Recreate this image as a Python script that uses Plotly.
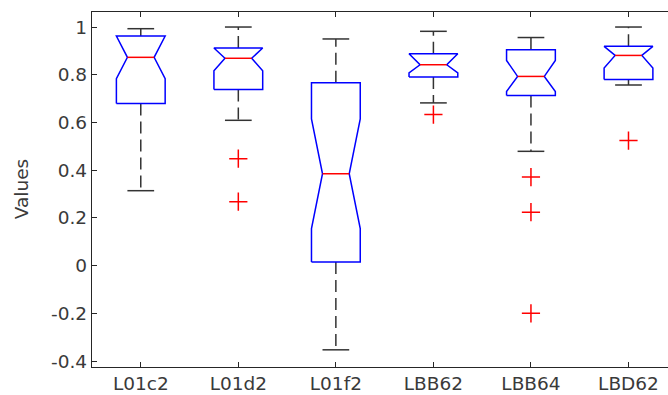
import plotly.graph_objects as go

# ---- data ----
categories = ["L01c2", "L01d2", "L01f2", "LBB62", "LBB64", "LBD62"]
q1 = [0.679, 0.738, 0.015, 0.791, 0.713, 0.780]
median = [0.873, 0.869, 0.385, 0.842, 0.793, 0.881]
q3 = [0.962, 0.912, 0.766, 0.888, 0.905, 0.919]
notch_lo = [0.784, 0.817, 0.155, 0.808, 0.730, 0.828]
notch_hi = [0.962, 0.912, 0.615, 0.888, 0.860, 0.919]
whisker_lo = [0.314, 0.609, -0.353, 0.682, 0.479, 0.757]
whisker_hi = [0.993, 1.000, 0.950, 0.982, 0.956, 1.000]
outliers = {
    "L01d2": [0.448, 0.268],
    "LBB62": [0.633],
    "LBB64": [0.371, 0.224, -0.200],
    "LBD62": [0.524],
}
y_tick_vals = [-0.4, -0.2, 0, 0.2, 0.4, 0.6, 0.8, 1.0]
y_tick_text = ["-0.4", "-0.2", "0", "0.2", "0.4", "0.6", "0.8", "1"]

# ---- geometry (styles) ----
W = 0.25     # box half-width
WN = 0.137   # notch / cap half-width
FONT = dict(family="DejaVu Sans", size=18.5, color="#3a3a3a")

xs = list(range(1, len(categories) + 1))

box_x, box_y = [], []
med_x, med_y = [], []
wh_x, wh_y = [], []
cap_x, cap_y = [], []
out_x, out_y = [], []
for i, c in enumerate(categories):
    x = xs[i]
    box_x += [x - W, x - W, x - WN, x - W, x - W, x + W, x + W, x + WN, x + W, x + W, x - W, None]
    box_y += [q1[i], notch_lo[i], median[i], notch_hi[i], q3[i], q3[i], notch_hi[i], median[i],
              notch_lo[i], q1[i], q1[i], None]
    med_x += [x - WN, x + WN, None]
    med_y += [median[i], median[i], None]
    wh_x += [x, x, None, x, x, None]
    wh_y += [q3[i], whisker_hi[i], None, q1[i], whisker_lo[i], None]
    cap_x += [x - WN, x + WN, None, x - WN, x + WN, None]
    cap_y += [whisker_hi[i], whisker_hi[i], None, whisker_lo[i], whisker_lo[i], None]
    for v in outliers.get(c, []):
        out_x.append(x)
        out_y.append(v)

fig = go.Figure()
fig.add_trace(go.Scatter(x=wh_x, y=wh_y, mode="lines",
                         line=dict(color="#333333", width=1.5, dash="12px,6px"), hoverinfo="skip"))
fig.add_trace(go.Scatter(x=cap_x, y=cap_y, mode="lines",
                         line=dict(color="#333333", width=1.5), hoverinfo="skip"))
fig.add_trace(go.Scatter(x=box_x, y=box_y, mode="lines",
                         line=dict(color="#0000ff", width=1.5), hoverinfo="skip"))
fig.add_trace(go.Scatter(x=med_x, y=med_y, mode="lines",
                         line=dict(color="#ff0000", width=1.5), hoverinfo="skip"))
fig.add_trace(go.Scatter(x=out_x, y=out_y, mode="markers",
                         marker=dict(symbol="cross-thin", size=13,
                                     line=dict(color="#ff0000", width=1.5)),
                         hoverinfo="skip"))

fig.update_layout(
    width=668, height=395,
    margin=dict(l=92, r=0, t=12, b=28),
    paper_bgcolor="white", plot_bgcolor="white",
    showlegend=False,
    font=FONT,
    annotations=[dict(text="Values", textangle=-90, xref="paper", yref="paper",
                      x=-0.122, y=0.5, xanchor="center", yanchor="middle",
                      showarrow=False, font=FONT)],
)
fig.update_xaxes(range=[0.5, 6.405], tickvals=xs, ticktext=categories,
                 showline=True, linecolor="#262626", linewidth=1.3, mirror="ticks",
                 ticks="inside", ticklen=5, tickcolor="#262626", tickwidth=1.3,
                 showgrid=False, zeroline=False, tickfont=FONT)
fig.update_yaxes(range=[-0.425, 1.063], tickvals=y_tick_vals, ticktext=y_tick_text,
                 showline=True, linecolor="#262626", linewidth=1.3, mirror=False,
                 ticks="inside", ticklen=5, tickcolor="#262626", tickwidth=1.3,
                 showgrid=False, zeroline=False, tickfont=FONT)

fig.write_html("out.html")
